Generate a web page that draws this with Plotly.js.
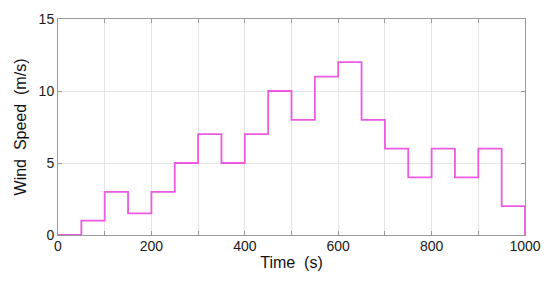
<!DOCTYPE html>
<html>
<head>
<meta charset="utf-8">
<script src="https://cdn.plot.ly/plotly-3.0.1.min.js"></script>
<style>
  html, body { margin: 0; padding: 0; background: #fff; }
  #chart { width: 550px; height: 281px; }
</style>
</head>
<body>
<div id="chart"></div>
<script>
// step times (s) and wind speed held from each time (m/s)
var time = [0, 50, 100, 150, 200, 250, 300, 350, 400, 450, 500,
            550, 600, 650, 700, 750, 800, 850, 900, 950, 1000];
var speed = [0, 1, 3, 1.5, 3, 5, 7, 5, 7, 10, 8,
             11, 12, 8, 6, 4, 6, 4, 6, 2, 0];

var xTicks = [0, 100, 200, 300, 400, 500, 600, 700, 800, 900, 1000];
var xLabels = ['0', '', '200', '', '400', '', '600', '', '800', '', '1000'];
var yTicks = [0, 5, 10, 15];

var wind = {
  x: time,
  y: speed,
  type: 'scatter',
  mode: 'lines',
  line: { shape: 'hv', color: '#ec5ae2', width: 1.8 },
  cliponaxis: false,
  hoverinfo: 'x+y'
};

var axisStyle = {
  showline: true,
  linecolor: '#9a9a9a',
  linewidth: 1,
  mirror: 'ticks',
  ticks: 'inside',
  ticklen: 4,
  tickcolor: '#9a9a9a',
  showgrid: true,
  gridcolor: '#e4e4e4',
  gridwidth: 1,
  zeroline: false,
  tickfont: { family: 'Liberation Sans, Arial, sans-serif', size: 14, color: '#1a1a1a' }
};

var layout = {
  width: 550,
  height: 281,
  margin: { l: 58, r: 25, t: 19, b: 46 },
  paper_bgcolor: '#fff',
  plot_bgcolor: '#fff',
  showlegend: false,
  xaxis: Object.assign({}, axisStyle, {
    range: [0, 1000],
    tickmode: 'array',
    tickvals: xTicks,
    ticktext: xLabels,
    ticklabelstandoff: -2,
    title: { text: 'Time  (s)', standoff: 4,
      font: { family: 'Liberation Sans, Arial, sans-serif', size: 16, color: '#111' } }
  }),
  yaxis: Object.assign({}, axisStyle, {
    range: [0, 15],
    tickmode: 'array',
    tickvals: yTicks,
    title: { text: 'Wind  Speed  (m/s)', standoff: 8,
      font: { family: 'Liberation Sans, Arial, sans-serif', size: 16, color: '#111' } }
  })
};

Plotly.newPlot('chart', [wind], layout, { displayModeBar: false, staticPlot: true });
</script>
</body>
</html>
